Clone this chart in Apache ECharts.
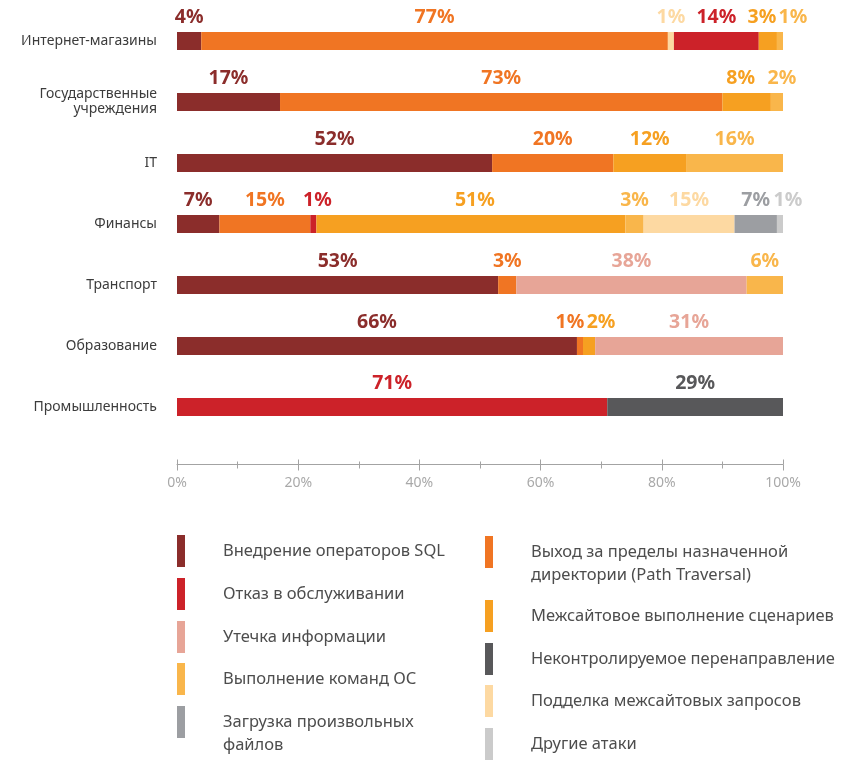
<!DOCTYPE html>
<html>
<head>
<meta charset="utf-8" />
<title>Атаки по отраслям</title>
<script src="https://cdn.jsdelivr.net/npm/echarts@6/dist/echarts.min.js"></script>
<style>
	html, body { margin: 0; padding: 0; background: #fff; }
	#chart { width: 854px; height: 767px; }
</style>
</head>
<body>
<div id="chart"></div>
<script>
// категории (сверху вниз)
var categories = ['Интернет-магазины', 'Государственные\nучреждения', 'IT', 'Финансы', 'Транспорт', 'Образование', 'Промышленность'];
var xTickLabels = ['0%', '20%', '40%', '60%', '80%', '100%'];

// доли атак, %
var sqlInjection    = [4, 17, 52, 7, 53, 66, null];
var pathTraversal   = [77, 73, 20, 15, 3, 1, null];
var csrf            = [1, null, null, 15, null, null, null];
var denialOfService = [14, null, null, 1, null, null, 71];
var xss             = [3, 8, 12, 51, null, 2, null];
var infoLeak        = [null, null, null, null, 38, 31, null];
var osCommands      = [1, 2, 16, 3, 6, null, null];
var fileUpload      = [null, null, null, 7, null, null, null];
var otherAttacks    = [null, null, null, 1, null, null, null];
var openRedirect    = [null, null, null, null, null, null, 29];

// в строке "Интернет-магазины" CSRF стоит раньше DoS
var csrfEarlyRows = [0];

var names = {
	sql: 'Внедрение операторов SQL',
	dos: 'Отказ в обслуживании',
	leak: 'Утечка информации',
	os: 'Выполнение команд ОС',
	upload: 'Загрузка произвольных\nфайлов',
	path: 'Выход за пределы назначенной\nдиректории (Path Traversal)',
	xss: 'Межсайтовое выполнение сценариев',
	redirect: 'Неконтролируемое перенаправление',
	csrf: 'Подделка межсайтовых запросов',
	other: 'Другие атаки'
};
var colors = {
	sql: '#8b2d2b', dos: '#cc2229', leak: '#e7a597', os: '#f9b64b', upload: '#9c9ea2',
	path: '#f07523', xss: '#f6a021', redirect: '#58585a', csrf: '#fdd9a2', other: '#cbcbcb'
};

// сдвиг подписей, чтобы не налезали друг на друга (px)
var labelShift = {
	'xss:0': -6, 'os:0': 13,
	'xss:1': -6, 'os:1': 5,
	'dos:3': 4, 'xss:3': 4, 'other:3': 8,
	'path:5': -10, 'xss:5': 12
};

function mask(arr, rows, keep) {
	return arr.map(function (v, i) { return (rows.indexOf(i) >= 0) === keep ? v : null; });
}

function makeSeries(key, values) {
	return {
		name: names[key],
		type: 'bar',
		stack: 'total',
		barWidth: 18,
		itemStyle: { color: colors[key] },
		label: {
			show: true,
			position: 'top',
			distance: 5,
			fontSize: 19.5,
			fontWeight: 'bold',
			color: colors[key],
			formatter: function (p) { return p.value + '%'; }
		},
		emphasis: { disabled: true },
		data: values.map(function (v, i) {
			var dx = labelShift[key + ':' + i];
			if (v === null) return null;
			return dx ? { value: v, label: { offset: [dx, 0] } } : v;
		})
	};
}

var series = [
	makeSeries('sql', sqlInjection),
	makeSeries('path', pathTraversal),
	makeSeries('csrf', mask(csrf, csrfEarlyRows, true)),
	makeSeries('dos', denialOfService),
	makeSeries('xss', xss),
	makeSeries('leak', infoLeak),
	makeSeries('os', osCommands),
	makeSeries('csrf', mask(csrf, csrfEarlyRows, false)),
	makeSeries('upload', fileUpload),
	makeSeries('other', otherAttacks),
	makeSeries('redirect', openRedirect)
];

// легенда: по одному элементу, две колонки
var legendItems = [
	['sql', 177, 535], ['dos', 177, 578], ['leak', 177, 621], ['os', 177, 663], ['upload', 177, 706],
	['path', 485, 536], ['xss', 485, 600], ['redirect', 485, 643], ['csrf', 485, 685], ['other', 485, 728]
];
var legends = legendItems.map(function (it) {
	var twoLines = names[it[0]].indexOf('\n') >= 0;
	return {
		data: [names[it[0]]],
		left: it[1],
		top: twoLines ? it[2] - 18.5 : it[2],
		orient: 'vertical',
		padding: 0,
		itemWidth: 8,
		itemHeight: 32,
		icon: 'rect',
		selectedMode: false,
		// первая строка текста — на уровне середины маркера
		formatter: function (n) { return n.indexOf('\n') >= 0 ? '\n' + n : n; },
		textStyle: {
			color: '#4d4d4d',
			fontSize: 16.5,
			lineHeight: twoLines ? 23 : 20,
			padding: [0, 0, 0, 33]
		}
	};
});

var axisColor = '#a3a3a3';
var chart = echarts.init(document.getElementById('chart'));
var option = {
	animation: false,
	textStyle: { fontFamily: 'Noto Sans' },
	legend: legends,
	grid: { left: 177, right: 71, top: 10.5, bottom: 329.5 },
	xAxis: [{
		type: 'value', min: 0, max: 100, interval: 20,
		position: 'bottom', offset: 27,
		axisLine: { show: true, lineStyle: { color: axisColor } },
		axisTick: { show: true, length: 6, lineStyle: { color: axisColor } },
		minorTick: { show: true, splitNumber: 2, length: 4, lineStyle: { color: axisColor } },
		splitLine: { show: false },
		axisLabel: {
			color: '#a9a9a9', fontSize: 14, margin: 12,
			formatter: function (v) { return xTickLabels[v / 20]; }
		}
	}, {
		// те же деления вверх от оси
		type: 'value', min: 0, max: 100, interval: 20,
		position: 'bottom', offset: 27,
		axisLine: { show: false },
		axisTick: { show: true, inside: true, length: 5, lineStyle: { color: axisColor } },
		minorTick: { show: true, splitNumber: 2, length: 3, lineStyle: { color: axisColor } },
		splitLine: { show: false },
		axisLabel: { show: false }
	}],
	yAxis: {
		type: 'category',
		data: categories,
		inverse: true,
		axisLine: { show: false },
		axisTick: { show: false },
		axisLabel: { color: '#3c3c3c', fontSize: 14, lineHeight: 15, margin: 20 }
	},
	series: series
};
chart.setOption(option);
</script>
</body>
</html>
